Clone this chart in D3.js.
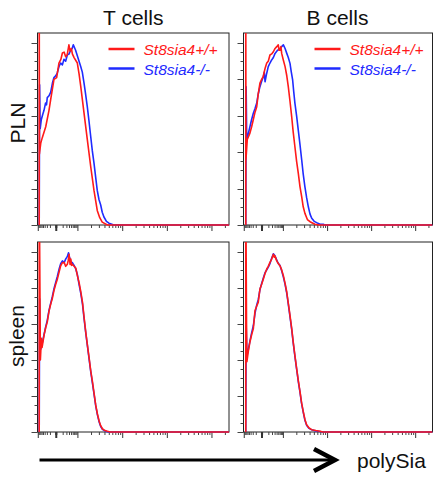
<!DOCTYPE html>
<html>
<head>
<meta charset="utf-8">
<script src="https://cdn.jsdelivr.net/npm/d3@7/dist/d3.min.js"></script>
<style>
  body { margin: 0; background: #fff; }
  text { font-family: "Liberation Sans", Arial, sans-serif; }
</style>
</head>
<body>
<div id="main"></div>
<script>
// panels: rows x columns
const rows = ["PLN", "spleen"];
const cols = ["T cells", "B cells"];
const genotypes = ["St8sia4+/+", "St8sia4-/-"];
const colors = ["#ff1a1a", "#1f2bff"];
const axisLabel = "polySia";

// histograms: [channel (0-1000), % of max]
const plnT_wt = [[9,0],[9,140],[10,39],[17,45],[25,48],[43,54],[60,63],[69,69],[86,80],[100,81],[112,89],[122,91],[130,94.5],[139,95],[147,92.5],[155,93.5],[164,99],[170,95.5],[177,97],[182,94],[191,92],[208,89],[217,83],[226,76],[243,61.5],[260,47],[278,32],[295,19],[312,8],[325,4],[338,1.6],[365,0],[1000,0]];
const plnT_ko = [[9,0],[11,77],[14,53],[20,58],[28,61],[34,63],[42,67],[47,66],[51,70],[60,71],[69,73],[78,78],[86,81],[95,82],[103,83.5],[112,87],[121,89],[130,88],[138,91],[147,90],[156,93.5],[165,94],[173,96],[181,97],[187,99],[193,97.5],[199,96],[208,93],[217,90],[226,87],[234,84],[243,78],[251,72],[260,65],[269,57],[278,48.5],[286,41],[295,34],[304,26],[312,19],[321,14],[330,11],[338,7],[347,4.4],[360,2],[373,1],[399,0],[1000,0]];
const plnB_wt = [[12,0],[12,140],[13,36],[20,47],[34,50.5],[43,54],[52,58],[61,62],[70,65],[78,72],[87,78],[96,80],[104,81.5],[114,86],[123,89],[131,90],[140,93.4],[149,94],[158,95.2],[167,97],[176,98],[184,99],[188,96],[193,96],[198,98],[202,94.3],[211,90.5],[220,87],[229,82],[237,76],[246,68],[255,59.5],[263,51],[272,43],[281,35],[290,28.4],[299,21],[308,15.5],[316,10],[325,6.4],[338,3],[352,1.8],[378,0.4],[400,0],[1000,0]];
const plnB_ko = [[12,0],[14,76],[17,46.7],[25,50],[34,54],[43,58],[52,61.4],[61,64],[70,67],[78,72],[87,76],[96,79],[105,81.5],[110,84],[114,78.7],[122,83],[131,87],[140,89],[149,90.7],[158,92],[167,94.3],[180,96],[193,97],[202,98],[211,99],[220,97],[229,94.3],[237,92],[246,88.8],[253,84],[260,79.7],[266,73],[272,67],[281,60],[290,52],[299,44],[308,35.7],[316,28],[325,21],[334,15],[343,10],[352,6],[361,3.7],[374,2],[387,1.3],[405,0.4],[422,0.4],[430,0],[1000,0]];
const splT_wt = [[9,0],[9,140],[13,74],[15,40],[17,44.5],[20,52],[24,47],[34,53.7],[43,58],[51,61],[60,67],[69,71],[77,74],[86,78.5],[95,82],[104,85],[113,89],[121,92.3],[130,94],[139,94.2],[147,92],[156,93.2],[160,95],[165,98.7],[170,93],[174,96],[178,92.5],[182,93.2],[191,92],[200,91],[208,87],[217,83],[226,78],[235,72],[243,64],[252,55.5],[261,48],[270,40.8],[278,34],[287,28],[296,21],[304,15],[313,10],[322,6],[330,3.5],[339,1.8],[352,0.8],[365,0.4],[380,0],[1000,0]];
const splT_ko = [[9,0],[11,74],[14,48],[17,46],[24,49],[34,54],[43,58.5],[51,62],[60,67.5],[69,71.5],[77,75],[86,79.5],[95,83],[104,86.5],[113,90.5],[121,93.5],[130,95],[139,94],[147,96],[156,97.5],[162,99.5],[167,97],[174,94.5],[182,94],[191,92.5],[200,90.5],[208,87.5],[217,82],[226,77],[235,71],[243,63],[252,55],[261,47.5],[270,40],[278,33.5],[287,27],[296,20.5],[304,14.5],[313,9.5],[322,5.5],[330,3],[339,1.5],[352,0.6],[370,0],[1000,0]];
const splB_wt = [[12,0],[12,140],[16,60],[18,39],[25,44.5],[34,50],[43,54],[52,57.4],[61,67.5],[70,70],[78,72],[87,79.4],[96,82],[105,85],[114,88],[123,90.5],[131,92],[140,94.2],[149,96],[158,98.7],[163,97],[167,97.8],[172,96],[176,95],[184,93.5],[193,92.3],[202,90],[211,86.8],[220,82.5],[229,77.6],[237,71.5],[246,64.7],[255,57.5],[263,50],[272,42.5],[281,35.3],[290,28.5],[299,22.4],[307,16.5],[316,11.4],[325,7],[334,4],[347,2.2],[361,1.3],[383,0.8],[405,0.4],[420,0],[1000,0]];
const splB_ko = [[12,0],[14,60],[18,42],[25,45.5],[34,50.5],[43,55],[52,59],[61,66],[70,70.5],[78,73.5],[87,79],[96,82.5],[105,85.5],[114,88.5],[123,90],[131,91.5],[140,93.5],[149,96.5],[158,99],[165,98],[172,96.5],[180,94.5],[188,93],[193,92.5],[202,89.5],[211,86],[220,82],[229,77],[237,71],[246,64],[255,57],[263,49.5],[272,42],[281,35],[290,28],[299,22],[307,16],[316,11],[325,6.5],[334,3.8],[347,2],[361,1.2],[383,0.6],[405,0.3],[420,0],[1000,0]];

const series = [
  [[plnT_wt, plnT_ko], [plnB_wt, plnB_ko]],
  [[splT_wt, splT_ko], [splB_wt, splB_ko]]
];

// axis ticks (fluorescence values, biexponential display)
const xMajor = [-100, 0, 100, 1000, 10000, 100000];
const xMinor = [-90,-80,-70,-60,-50,-40,-30,-20,-10,10,20,30,40,50,60,70,80,90,
  200,300,400,500,600,700,800,900,2000,3000,4000,5000,6000,7000,8000,9000,
  20000,30000,40000,50000,60000,70000,80000,90000,200000];
const yMajor = [0, 20, 40, 60, 80, 100];
const yMinor = [5,10,15,25,30,35,45,50,55,65,70,75,85,90,95];

// value -> channel
function biex(v) {
  if (v === 0) return 98;
  const a = Math.abs(v);
  if (v < 0) return 95 - 91 * Math.log10(a / 10);
  if (a <= 100) return 101 + 110 * Math.log10(a / 10);
  return 212 + 233 * Math.log10(a / 100);
}

const W = 433, H = 480;
const colX = [37.5, 243.5], colW = [191.5, 189];
const rowY = [33, 242], rowH = [192, 190];

const svg = d3.select('#main').append('svg')
  .attr('width', W).attr('height', H);
svg.append('rect').attr('width', W).attr('height', H).attr('fill', '#fff');

rows.forEach(function(rname, r) {
  cols.forEach(function(cname, c) {
    const w = colW[c], h = rowH[r];
    const x = d3.scaleLinear().domain([0, 1000]).range([0, w]);
    const y = d3.scaleLinear().domain([0, 105.5]).range([h, 0]);
    const g = svg.append('g').attr('transform', 'translate(' + colX[c] + ',' + rowY[r] + ')');
    const clipId = 'clip' + r + c;
    g.append('clipPath').attr('id', clipId)
      .append('rect').attr('x', 0).attr('y', 0).attr('width', w).attr('height', h + 1);

    // frame
    g.append('rect').attr('x', 0).attr('y', 0).attr('width', w).attr('height', h)
      .attr('fill', 'none').attr('stroke', '#222').attr('stroke-width', 1);

    // y ticks
    g.selectAll('.ymin').data(yMinor).enter().append('line')
      .attr('x1', -3).attr('x2', 0)
      .attr('y1', d => Math.round(y(d)) + 0.5).attr('y2', d => Math.round(y(d)) + 0.5)
      .attr('stroke', '#444');
    g.selectAll('.ymaj').data(yMajor).enter().append('line')
      .attr('x1', -6).attr('x2', 0)
      .attr('y1', d => Math.round(y(d)) + 0.5).attr('y2', d => Math.round(y(d)) + 0.5)
      .attr('stroke', '#444');

    // x ticks
    g.selectAll('.xmin').data(xMinor).enter().append('line')
      .attr('x1', d => x(biex(d))).attr('x2', d => x(biex(d)))
      .attr('y1', h).attr('y2', h + 3)
      .attr('stroke', '#444');
    g.selectAll('.xmaj').data(xMajor).enter().append('line')
      .attr('x1', d => x(biex(d))).attr('x2', d => x(biex(d)))
      .attr('y1', h).attr('y2', h + 6)
      .attr('stroke', '#333').attr('stroke-width', d => d === 0 ? 2 : 1);

    // histograms (knockout under wild type)
    const line = d3.line().x(d => x(d[0])).y(d => y(d[1]));
    const pair = series[r][c];
    [1, 0].forEach(function(k) {
      g.append('path').datum(pair[k])
        .attr('d', line)
        .attr('clip-path', 'url(#' + clipId + ')')
        .attr('fill', 'none')
        .attr('stroke', colors[k])
        .attr('stroke-width', 1.6)
        .attr('stroke-linejoin', 'round');
    });

    // legend in top row
    if (r === 0) {
      genotypes.forEach(function(gt, k) {
        const ly = 16 + k * 19.5;
        g.append('line').attr('x1', 71).attr('x2', 97).attr('y1', ly).attr('y2', ly)
          .attr('stroke', colors[k]).attr('stroke-width', 2.5);
        g.append('text').attr('x', 106).attr('y', ly + 6)
          .attr('fill', colors[k]).attr('font-size', '15.5px')
          .attr('font-style', 'italic').text(gt);
      });
    }
  });
});

// column titles
cols.forEach(function(cname, c) {
  svg.append('text').attr('x', colX[c] + colW[c] / 2 + (c === 0 ? 0 : -0.5)).attr('y', 25)
    .attr('text-anchor', 'middle').attr('font-size', '21px').attr('fill', '#111').text(cname);
});

// row titles
const rowLabelPos = [[25, 123], [23.5, 336]];
rows.forEach(function(rname, r) {
  svg.append('text')
    .attr('transform', 'translate(' + rowLabelPos[r][0] + ',' + rowLabelPos[r][1] + ') rotate(-90)')
    .attr('text-anchor', 'middle').attr('font-size', '21px').attr('fill', '#111').text(rname);
});

// polySia arrow
svg.append('line').attr('x1', 39.5).attr('x2', 333).attr('y1', 460).attr('y2', 460)
  .attr('stroke', '#000').attr('stroke-width', 3);
svg.append('polyline').attr('points', '314,449 335,460 314,471')
  .attr('fill', 'none').attr('stroke', '#000').attr('stroke-width', 4.5)
  .attr('stroke-linejoin', 'miter');
svg.append('text').attr('x', 357).attr('y', 468).attr('font-size', '21px')
  .attr('fill', '#111').text(axisLabel);
</script>
</body>
</html>
